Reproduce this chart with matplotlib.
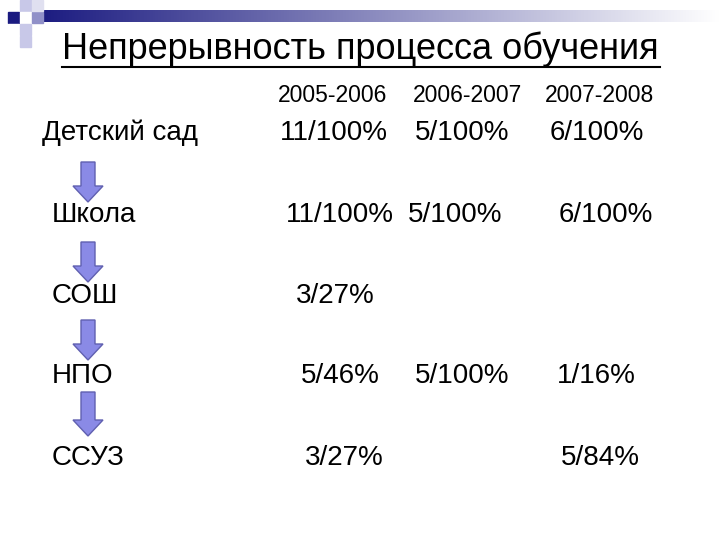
import matplotlib
matplotlib.use("Agg")
import matplotlib.pyplot as plt
import numpy as np
from matplotlib.patches import FancyArrow, Rectangle
from matplotlib.colors import LinearSegmentedColormap

title = "Непрерывность процесса обучения"
years = ["2005-2006", "2006-2007", "2007-2008"]
levels = ["Детский сад", "Школа", "СОШ", "НПО", "ССУЗ"]
values = [
    ["11/100%", "5/100%", "6/100%"],
    ["11/100%", "5/100%", "6/100%"],
    ["3/27%", "", ""],
    ["5/46%", "5/100%", "1/16%"],
    ["3/27%", "", "5/84%"],
]

plt.rcParams['font.family'] = ['Liberation Sans', 'DejaVu Sans']
fig = plt.figure(figsize=(7.2, 5.4), dpi=100)
ax = fig.add_axes([0, 0, 1, 1])
ax.set_xlim(0, 720)
ax.set_ylim(540, 0)
ax.axis('off')

grad = np.linspace(0, 1, 256)[None, :]
cm = LinearSegmentedColormap.from_list('g', ['#1a1a80', '#ffffff'])
ax.imshow(grad, cmap=cm, extent=(35, 720, 22, 10), aspect='auto', zorder=1)
for (x, y, c) in [(8, 12, '#1a1a80'), (20, 0, '#c8c8e8'), (20, 12, '#ffffff'), (32, 12, '#9090c8'),
                  (8, 24, '#ffffff'), (20, 24, '#c8c8e8'), (20, 36, '#c8c8e8'), (32, 0, '#e0e0f0')]:
    ax.add_patch(Rectangle((x, y), 11, 11, color=c, zorder=2))

ax.text(360, 49, title, ha='center', va='center', fontsize=26)
ax.plot([62, 660], [67, 67], color='black', lw=1.5)

year_x = [333, 467, 600]
for x, y in zip(year_x, years):
    ax.text(x, 96, y, ha='center', va='center', fontsize=16.5)

row_y = [133, 215, 296, 376, 458]
label_x = [42, 52, 52, 52, 52]
col_x = [[334, 462, 597], [340, 455, 606], [335, 0, 0], [340, 462, 596], [344, 0, 600]]
for i, lab in enumerate(levels):
    ax.text(label_x[i], row_y[i], lab, ha='left', va='center', fontsize=20)
    for j, v in enumerate(values[i]):
        if v:
            ax.text(col_x[i][j], row_y[i], v, ha='center', va='center', fontsize=20)

for y0, y1 in [(162, 202), (242, 282), (320, 360), (392, 436)]:
    ax.add_patch(FancyArrow(88, y0, 0, y1 - y0, width=14, head_width=30, head_length=16,
                            length_includes_head=True, facecolor='#8a8ae6', edgecolor='#6060b0', lw=1))

fig.savefig('out.png', dpi=100)
